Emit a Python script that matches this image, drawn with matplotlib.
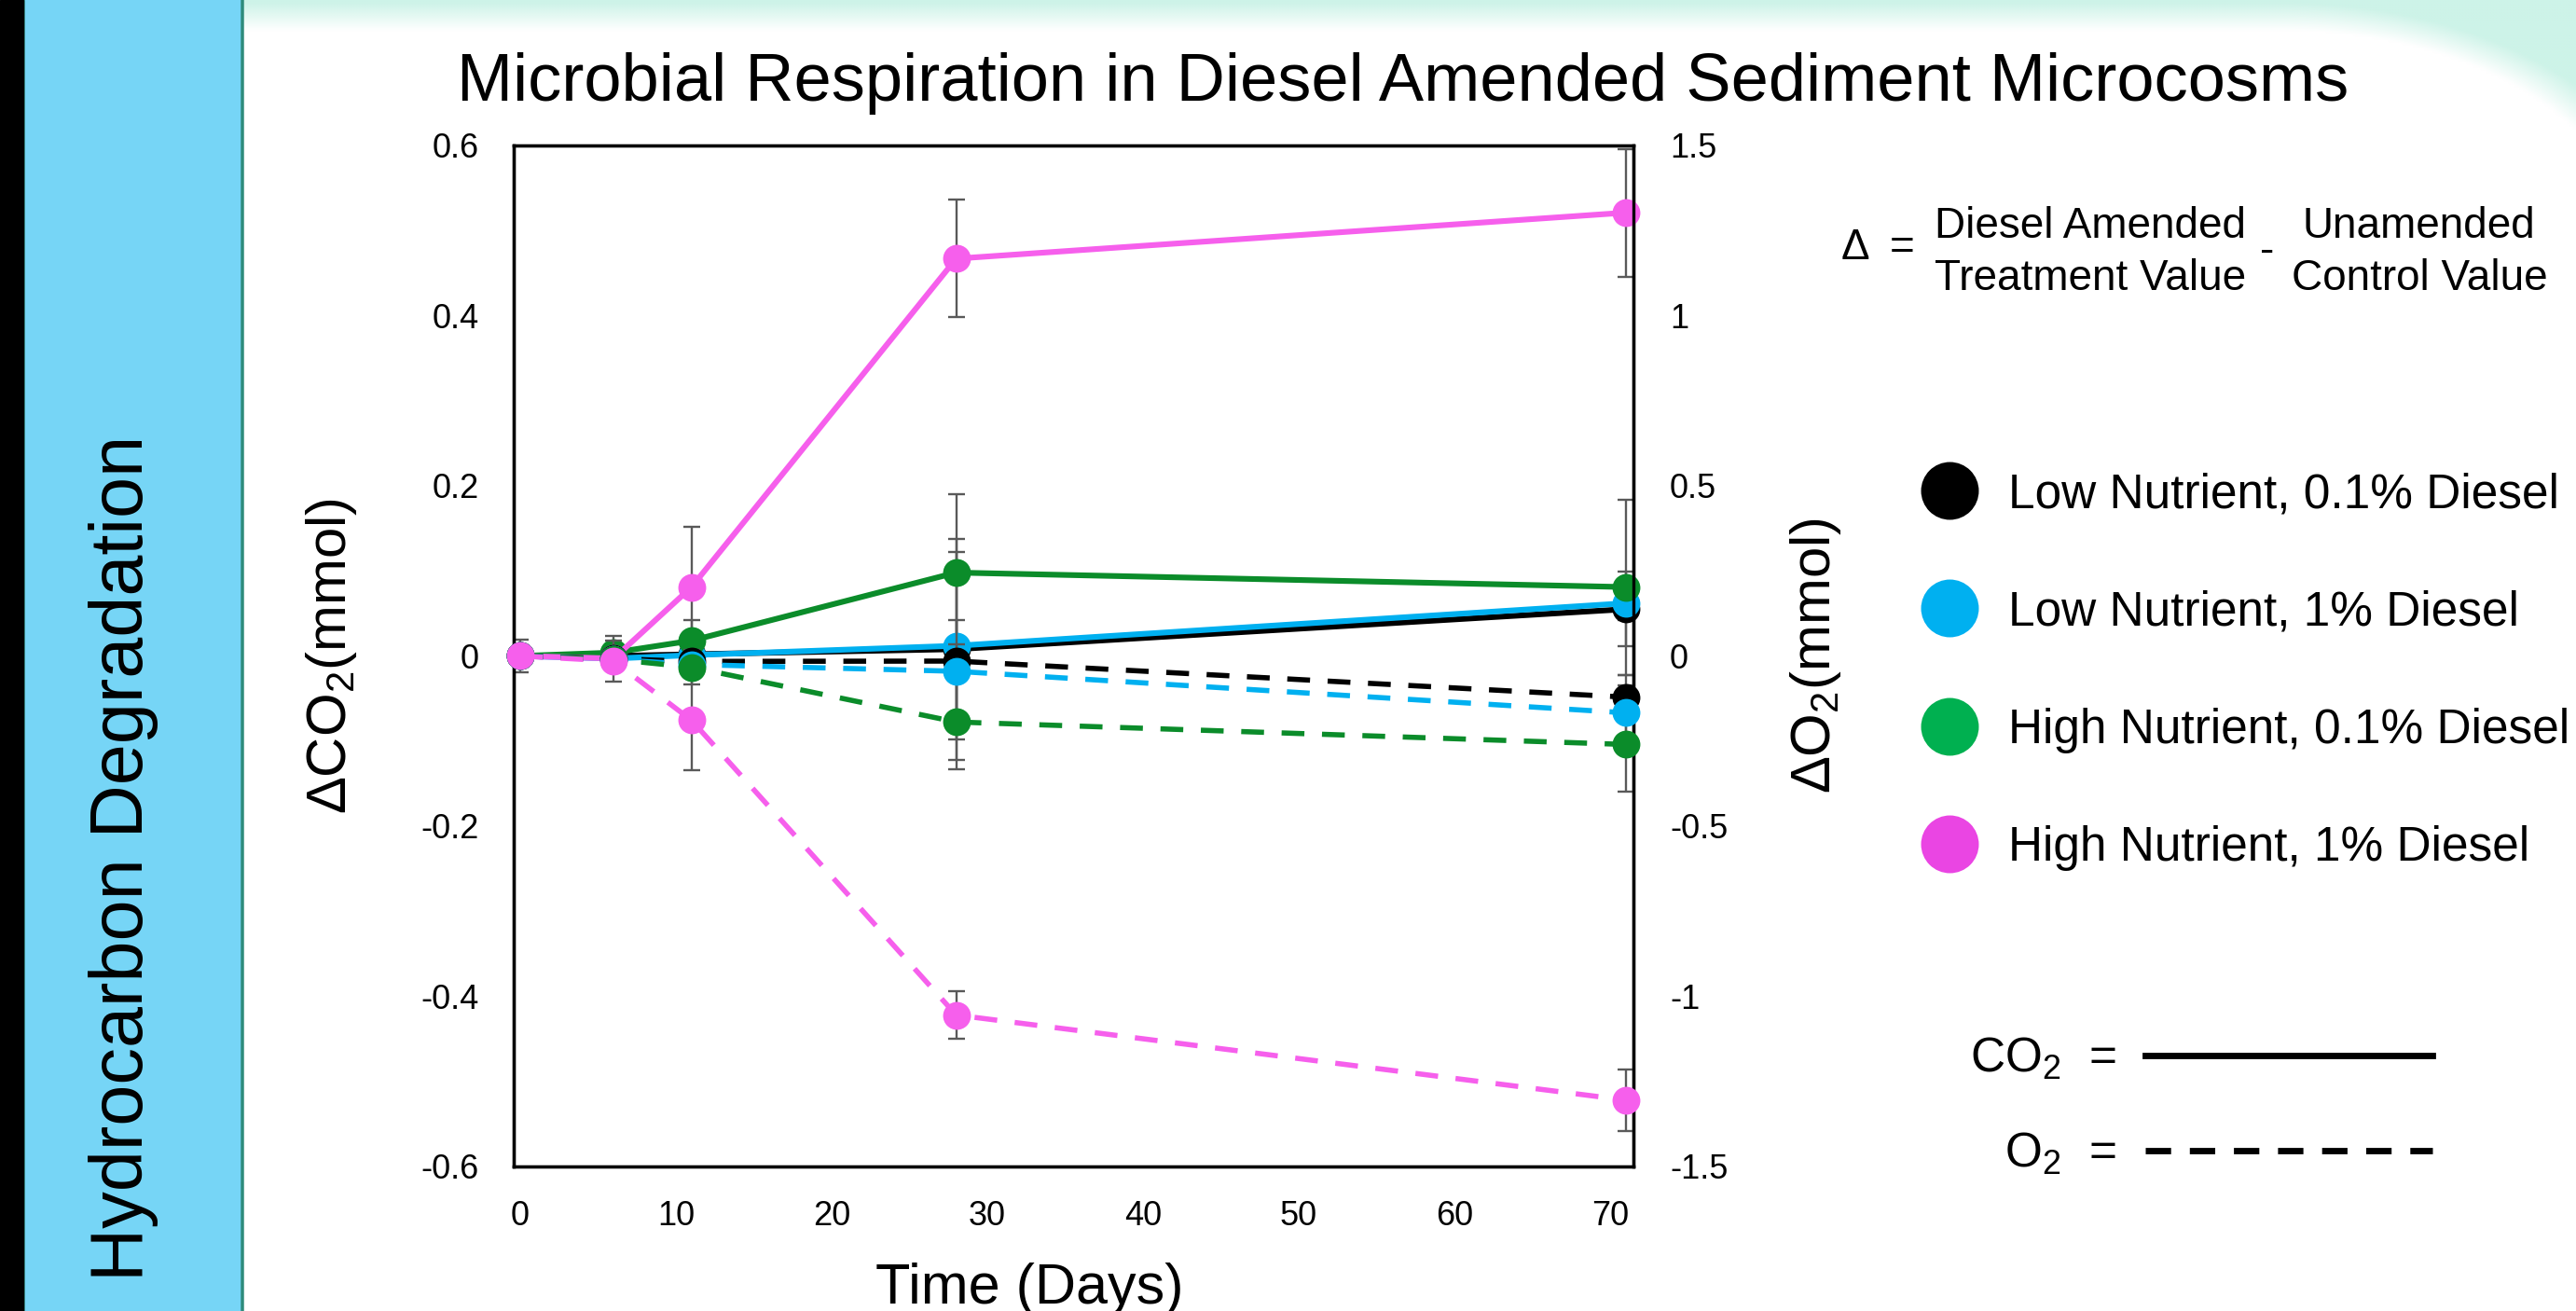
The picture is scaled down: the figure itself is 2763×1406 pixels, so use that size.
import numpy as np
import matplotlib
matplotlib.use('Agg')
import matplotlib.pyplot as plt
from matplotlib.patches import Rectangle, FancyBboxPatch
from matplotlib.lines import Line2D
from matplotlib.ticker import FuncFormatter

plt.rcParams['font.family'] = ['Liberation Sans', 'DejaVu Sans']
plt.rcParams['mathtext.fontset'] = 'custom'
plt.rcParams['mathtext.rm'] = 'Liberation Sans'
plt.rcParams['mathtext.it'] = 'Liberation Sans:italic'
plt.rcParams['mathtext.bf'] = 'Liberation Sans:bold'
plt.rcParams['axes.unicode_minus'] = False

# valores
days = [0, 6, 11, 28, 71]
treatments = ['Low Nutrient, 0.1% Diesel', 'Low Nutrient, 1% Diesel',
              'High Nutrient, 0.1% Diesel', 'High Nutrient, 1% Diesel']

# delta CO2 (mmol), eixo da esquerda
co2_low_01 = [0.0, 0.0, 0.002, 0.008, 0.055]
co2_low_1 = [0.0, -0.003, 0.001, 0.012, 0.062]
co2_high_01 = [0.0, 0.004, 0.018, 0.098, 0.081]
co2_high_1 = [0.0, -0.003, 0.081, 0.467, 0.521]

co2_err_low_01 = [0.01, 0.01, 0.01, 0.13, 0.044]
co2_err_low_1 = [0.01, 0.01, 0.01, 0.11, 0.02]
co2_err_high_01 = [0.019, 0.02, 0.024, 0.092, 0.103]
co2_err_high_1 = [0.01, 0.01, 0.071, 0.069, 0.075]

# delta O2 (mmol), eixo da direita
o2_low_01 = [0.0, -0.008, -0.016, -0.015, -0.121]
o2_low_1 = [0.0, -0.010, -0.025, -0.045, -0.167]
o2_high_01 = [0.0, -0.010, -0.033, -0.194, -0.260]
o2_high_1 = [0.0, -0.015, -0.189, -1.055, -1.305]

o2_err_low_01 = [0.02, 0.02, 0.02, 0.05, 0.065]
o2_err_low_1 = [0.02, 0.02, 0.03, 0.15, 0.08]
o2_err_high_01 = [0.03, 0.03, 0.05, 0.14, 0.14]
o2_err_high_1 = [0.03, 0.06, 0.146, 0.07, 0.09]

line_colors = ['#000000', '#00B0F0', '#0B8C2A', '#F65FEC']
legend_colors = ['#000000', '#00B0F0', '#00B050', '#EA45E3']

co2 = [co2_low_01, co2_low_1, co2_high_01, co2_high_1]
co2_err = [co2_err_low_01, co2_err_low_1, co2_err_high_01, co2_err_high_1]
o2 = [o2_low_01, o2_low_1, o2_high_01, o2_high_1]
o2_err = [o2_err_low_01, o2_err_low_1, o2_err_high_01, o2_err_high_1]

W, H = 2763, 1406
fig = plt.figure(figsize=(W / 100, H / 100), dpi=100)

# fundo do poster (faixa preta, painel azul, borda verde-agua)
bg = fig.add_axes([0, 0, 1, 1], zorder=-10)
bg.set_xlim(0, W)
bg.set_ylim(H, 0)
bg.axis('off')

xx, yy = np.meshgrid(np.arange(0, W, 3) + 1.5, np.arange(0, H, 3) + 1.5)
cx, cy, rx, ry = 2450.0, 265.0, 400.0, 250.0
ex = (xx - cx) / rx
ey = np.where(yy < cy, (yy - cy) / ry, 0.0)
dist = np.where(xx > cx, (1 - np.sqrt(ex ** 2 + ey ** 2)) * ry, yy - 15.0)
mint = np.zeros(xx.shape + (4,))
mint[..., 0] = 205 / 255
mint[..., 1] = 243 / 255
mint[..., 2] = 232 / 255
mint[..., 3] = np.clip(1 - (dist + 12) / 30, 0, 1)
bg.imshow(mint, extent=(0, W, H, 0), interpolation='bilinear', aspect='auto')

bg.add_patch(FancyBboxPatch((25, -80), 235, 1600, boxstyle='round,pad=0,rounding_size=35',
                            fc='#76D5F6', ec='#2E8B7B', lw=2.5))
bg.add_patch(Rectangle((0, 0), 25, H, color='black'))
bg.text(133, 920, 'Hydrocarbon Degradation', fontsize=57, rotation=90,
        ha='center', va='center')

# grafico principal
ax = fig.add_axes([551 / W, 1 - 1251 / H, 1201 / W, 1095 / H])
ax2 = ax.twinx()

for i in range(4):
    ax.errorbar(days, co2[i], yerr=co2_err[i], fmt='none', ecolor='#595959',
                elinewidth=1.7, capsize=6.5, capthick=1.7, zorder=1)
for i in range(4):
    ax.plot(days, co2[i], color=line_colors[i], lw=4.4, marker='o', ms=21.5,
            mew=0, zorder=3, clip_on=False)
for i in range(4):
    ax2.errorbar(days, o2[i], yerr=o2_err[i], fmt='none', ecolor='#595959',
                 elinewidth=1.7, capsize=6.5, capthick=1.7, zorder=1)
for i in range(4):
    ax2.plot(days, o2[i], color=line_colors[i], lw=4.0, ls=(0, (4.4, 3.4)),
             marker='o', ms=21.5, mew=0, zorder=3, clip_on=False)

ax.set_xlim(-0.42, 71.5)
ax.set_ylim(-0.6, 0.6)
ax2.set_ylim(-1.5, 1.5)
ax.set_xticks(range(0, 71, 10))
ax.set_yticks(np.linspace(-0.6, 0.6, 7))
ax2.set_yticks(np.linspace(-1.5, 1.5, 7))

fmt = FuncFormatter(lambda v, p: '0' if abs(v) < 1e-9 else f'{round(v, 2):g}')
ax.yaxis.set_major_formatter(fmt)
ax2.yaxis.set_major_formatter(fmt)

ax.tick_params(axis='x', length=0, labelsize=26, pad=26)
ax.tick_params(axis='y', length=0, labelsize=26, pad=27)
ax2.tick_params(axis='y', length=0, labelsize=26, pad=28)
for a in (ax, ax2):
    for s in a.spines.values():
        s.set_linewidth(2.4)
        s.set_color('black')

ax.set_ylabel('ΔCO$_2$(mmol)', fontsize=43, va='center')
ax.yaxis.set_label_coords(-0.1624, 0.5)
ax2.set_ylabel('ΔO$_2$(mmol)', fontsize=43, rotation=90, va='center')
ax2.yaxis.set_label_coords(1.1624, 0.5)
ax.set_xlabel('Time (Days)', fontsize=44, va='baseline')
ax.xaxis.set_label_coords(0.4605, -0.134)

fig.text(1505 / W, 1 - 108 / H, 'Microbial Respiration in Diesel Amended Sediment Microcosms',
         fontsize=52, ha='center', va='baseline')

# definicao do delta
bg.text(1990, 278, 'Δ', fontsize=33, ha='center', va='baseline')
bg.text(2040, 278, '=', fontsize=33, ha='center', va='baseline')
bg.text(2242, 255, 'Diesel Amended', fontsize=33, ha='center', va='baseline')
bg.text(2242, 311, 'Treatment Value', fontsize=33, ha='center', va='baseline')
bg.text(2432, 270, '-', fontsize=33, ha='center', va='center')
bg.text(2594, 255, 'Unamended', fontsize=33, ha='center', va='baseline')
bg.text(2595, 311, 'Control Value', fontsize=33, ha='center', va='baseline')

# legenda dos tratamentos
handles = [Line2D([], [], ls='none', marker='o', ms=44.6, mew=0, color=c) for c in legend_colors]
fig.legend(handles, treatments, loc='center left', bbox_to_anchor=(2060 / W, 1 - 720 / H),
           frameon=False, fontsize=37, handlelength=1.2, handletextpad=0.62,
           labelspacing=1.5, borderpad=0, borderaxespad=0)

# legenda das linhas
key = [Line2D([], [], color='black', lw=4.9),
       Line2D([], [], color='black', lw=4.9, ls=(0, (4, 2.95)))]
fig.legend(key, ['CO$_2$  =', 'O$_2$  ='], loc='center right',
           bbox_to_anchor=(2609 / W, 1 - 1187 / H), frameon=False, fontsize=37,
           markerfirst=False, alignment='right', handlelength=5.99,
           handletextpad=0.6, labelspacing=1.03, borderpad=0, borderaxespad=0)

plt.savefig('out.png', dpi=100)
